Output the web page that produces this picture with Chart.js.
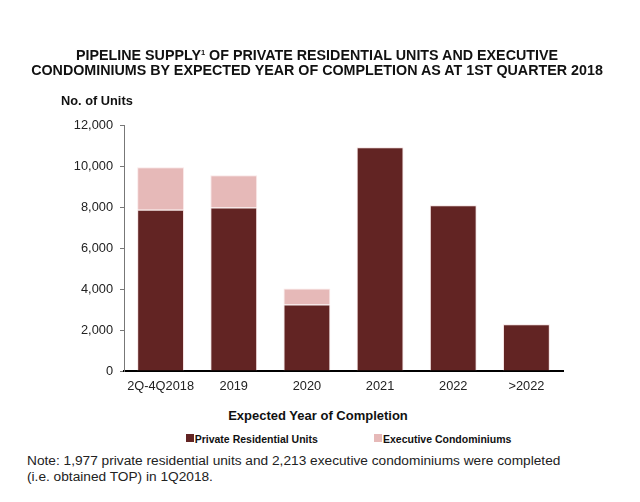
<!DOCTYPE html>
<html>
<head>
<meta charset="utf-8">
<script src="https://cdn.jsdelivr.net/npm/chart.js@4/dist/chart.umd.min.js"></script>
<style>
  html, body { margin: 0; padding: 0; background: #fff; }
  body { width: 640px; height: 502px; position: relative; overflow: hidden; font-family: "Liberation Sans", Arial, sans-serif; color: #111; }
  #wrap { position: absolute; left: 0; top: 0; width: 640px; height: 400px; }
  .title { position: absolute; left: 0; width: 634px; top: 48px; text-align: center; font-weight: bold; font-size: 14.3px; line-height: 15.3px; }
  .title sup { font-size: 7.5px; vertical-align: 5px; line-height: 0; }
  .ylab { position: absolute; left: 61px; top: 93px; font-weight: bold; font-size: 12.8px; line-height: 15px; }
  .xlab { position: absolute; left: 0; width: 636px; top: 407.5px; text-align: center; font-weight: bold; font-size: 13px; line-height: 15px; }
  .note { position: absolute; left: 27px; top: 453.3px; font-size: 13.7px; line-height: 15.3px; color: #222; white-space: nowrap; }
  .leg { position: absolute; top: 432.7px; font-weight: bold; font-size: 10.5px; line-height: 12px; color: #111; white-space: nowrap; }
  .leg i { position: absolute; top: 1.8px; width: 8px; height: 8px; }
</style>
</head>
<body>
<div id="wrap"><canvas id="c" width="640" height="400"></canvas></div>
<div class="title">PIPELINE SUPPLY<sup>1</sup> OF PRIVATE RESIDENTIAL UNITS AND EXECUTIVE<br>CONDOMINIUMS BY EXPECTED YEAR OF COMPLETION AS AT 1ST QUARTER 2018</div>
<div class="ylab">No. of Units</div>
<div class="xlab">Expected Year of Completion</div>
<div id="legend"></div>
<div class="note">Note: 1,977 private residential units and 2,213 executive condominiums were completed<br>(i.e. obtained TOP) in 1Q2018.</div>
<script>
const categories = ["2Q-4Q2018", "2019", "2020", "2021", "2022", ">2022"];
const privateUnits = [7860, 7980, 3240, 10910, 8080, 2285];
const execCondos = [2080, 1570, 780, 0, 0, 0];
const seriesNames = ["Private Residential Units", "Executive Condominiums"];
const seriesColors = ["#622423", "#e6b9b8"];
const yTicks = [0, 2000, 4000, 6000, 8000, 10000, 12000];

const FONT = "'Liberation Sans', Arial, sans-serif";

const chart = new Chart(document.getElementById('c'), {
  type: 'bar',
  data: {
    labels: categories,
    datasets: [
      { label: seriesNames[0], data: privateUnits, backgroundColor: seriesColors[0], borderColor: 'rgba(235,200,200,0.55)', borderWidth: 1, barPercentage: 0.64, categoryPercentage: 1 },
      { label: seriesNames[1], data: execCondos, backgroundColor: seriesColors[1], borderColor: 'rgba(245,215,215,0.6)', borderWidth: 1, barPercentage: 0.64, categoryPercentage: 1 }
    ]
  },
  options: {
    responsive: false,
    animation: false,
    devicePixelRatio: 1,
    layout: { padding: { left: 60, right: 77, top: 125, bottom: 0 } },
    plugins: {
      title: { display: false },
      tooltip: { enabled: false },
      legend: { display: false }
    },
    scales: {
      x: {
        stacked: true,
        grid: { display: false, drawTicks: false },
        border: { display: true, color: '#000', width: 2 },
        ticks: { color: '#222', padding: 8, font: { family: FONT, size: 12.8 }, maxRotation: 0 },
        afterFit: (s) => { s.height = 29; }
      },
      y: {
        stacked: true,
        min: 0,
        max: 12000,
        afterBuildTicks: (s) => { s.ticks = yTicks.map(v => ({ value: v })); },
        grid: { drawOnChartArea: false, drawTicks: true, tickLength: 4, color: '#777' },
        border: { display: true, color: '#777', width: 1 },
        ticks: {
          color: '#222',
          padding: 7,
          font: { family: FONT, size: 12.8 },
          callback: (v) => v.toLocaleString('en-US')
        },
        afterFit: (s) => { s.width = 64; }
      }
    }
  }
});

// HTML legend built from the chart's datasets
const legendLefts = [185.7, 374];
const legendEl = document.getElementById('legend');
chart.data.datasets.forEach((ds, i) => {
  const item = document.createElement('div');
  item.className = 'leg';
  item.style.left = legendLefts[i] + 'px';
  item.style.paddingLeft = '9px';
  const box = document.createElement('i');
  box.style.left = '0px';
  box.style.background = ds.backgroundColor;
  item.appendChild(box);
  item.appendChild(document.createTextNode(ds.label));
  legendEl.appendChild(item);
});
</script>
</body>
</html>
